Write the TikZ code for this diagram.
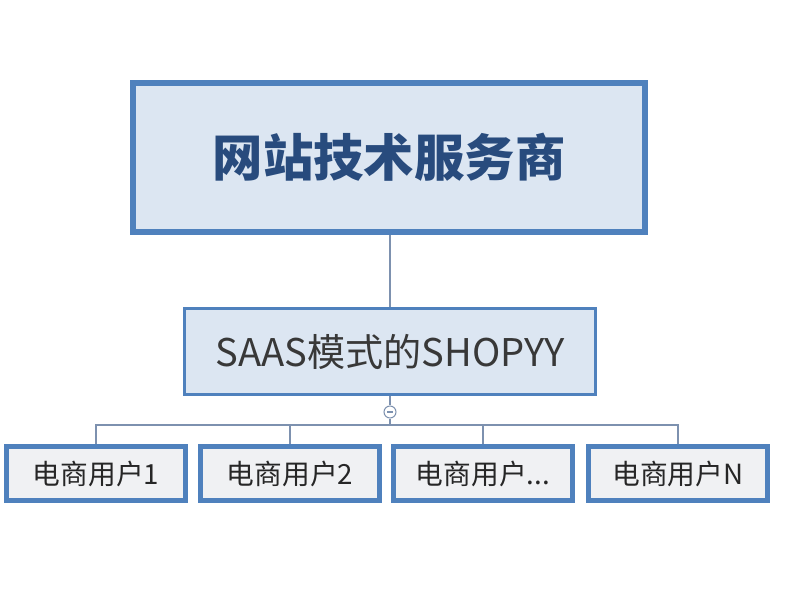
\documentclass[tikz,border=0pt]{standalone}
\usepackage{fontspec}
\setmainfont{Noto Sans CJK SC}
\usetikzlibrary{positioning}
\definecolor{frame}{RGB}{79,129,189}
\definecolor{lblue}{RGB}{220,230,242}
\definecolor{lgray}{RGB}{240,241,243}
\definecolor{dblue}{RGB}{40,75,125}
\definecolor{wire}{RGB}{125,145,175}
\tikzset{
    topbox/.style={
        rectangle, draw=frame, fill=lblue, line width=4.5pt,
        minimum width=512*0.75pt, minimum height=149*0.75pt,
        font=\fontsize{37.8}{42}\selectfont\bfseries, text=dblue
    },
    midbox/.style={
        rectangle, draw=frame, fill=lblue, line width=2.2pt,
        minimum width=411*0.75pt, minimum height=86*0.75pt,
        font=\fontsize{28.6}{32}\selectfont, text=black!78
    },
    userbox/.style={
        rectangle, draw=frame, fill=lgray, line width=3.8pt,
        minimum width=179*0.75pt, minimum height=54*0.75pt,
        font=\fontsize{20.8}{24}\selectfont, text=black!85
    },
    toggle/.style={
        circle, draw=wire, fill=white, line width=0.8pt,
        minimum size=9pt, inner sep=0pt
    },
    link/.style={
        draw=wire, line width=1.1pt
    }
}
\begin{document}
\begin{tikzpicture}[x=0.75pt,y=0.75pt]
    \useasboundingbox (0,0) rectangle (800,600);
    % hierarchy
    \node[topbox] (vendor) at (389,442.5) {网站技术服务商};
    \node[midbox] (saas) at (390,248.5) {SAAS模式的SHOPYY};
    \node[userbox] (u1) at (96,126.5) {电商用户1};
    \node[userbox] (u2) at (290,126.5) {电商用户2};
    \node[userbox] (u3) at (483,126.5) {电商用户...};
    \node[userbox] (u4) at (678,126.5) {电商用户N};
    \coordinate (bus) at (390,175);
    \node[toggle] (fold) at (390,188) {};

    \draw[link] (vendor.south -| saas.north) -- (saas.north);
    \draw[link] (saas.south) -- (fold.north);
    \draw[link] (fold.south) -- (bus);
    \foreach \u in {u1,u2,u3,u4}
        \draw[link] (bus) -| (\u.north);
    \draw[draw=wire, line width=0.8pt] ([xshift=-2.2pt]fold.center) -- ([xshift=2.2pt]fold.center);
\end{tikzpicture}
\end{document}
